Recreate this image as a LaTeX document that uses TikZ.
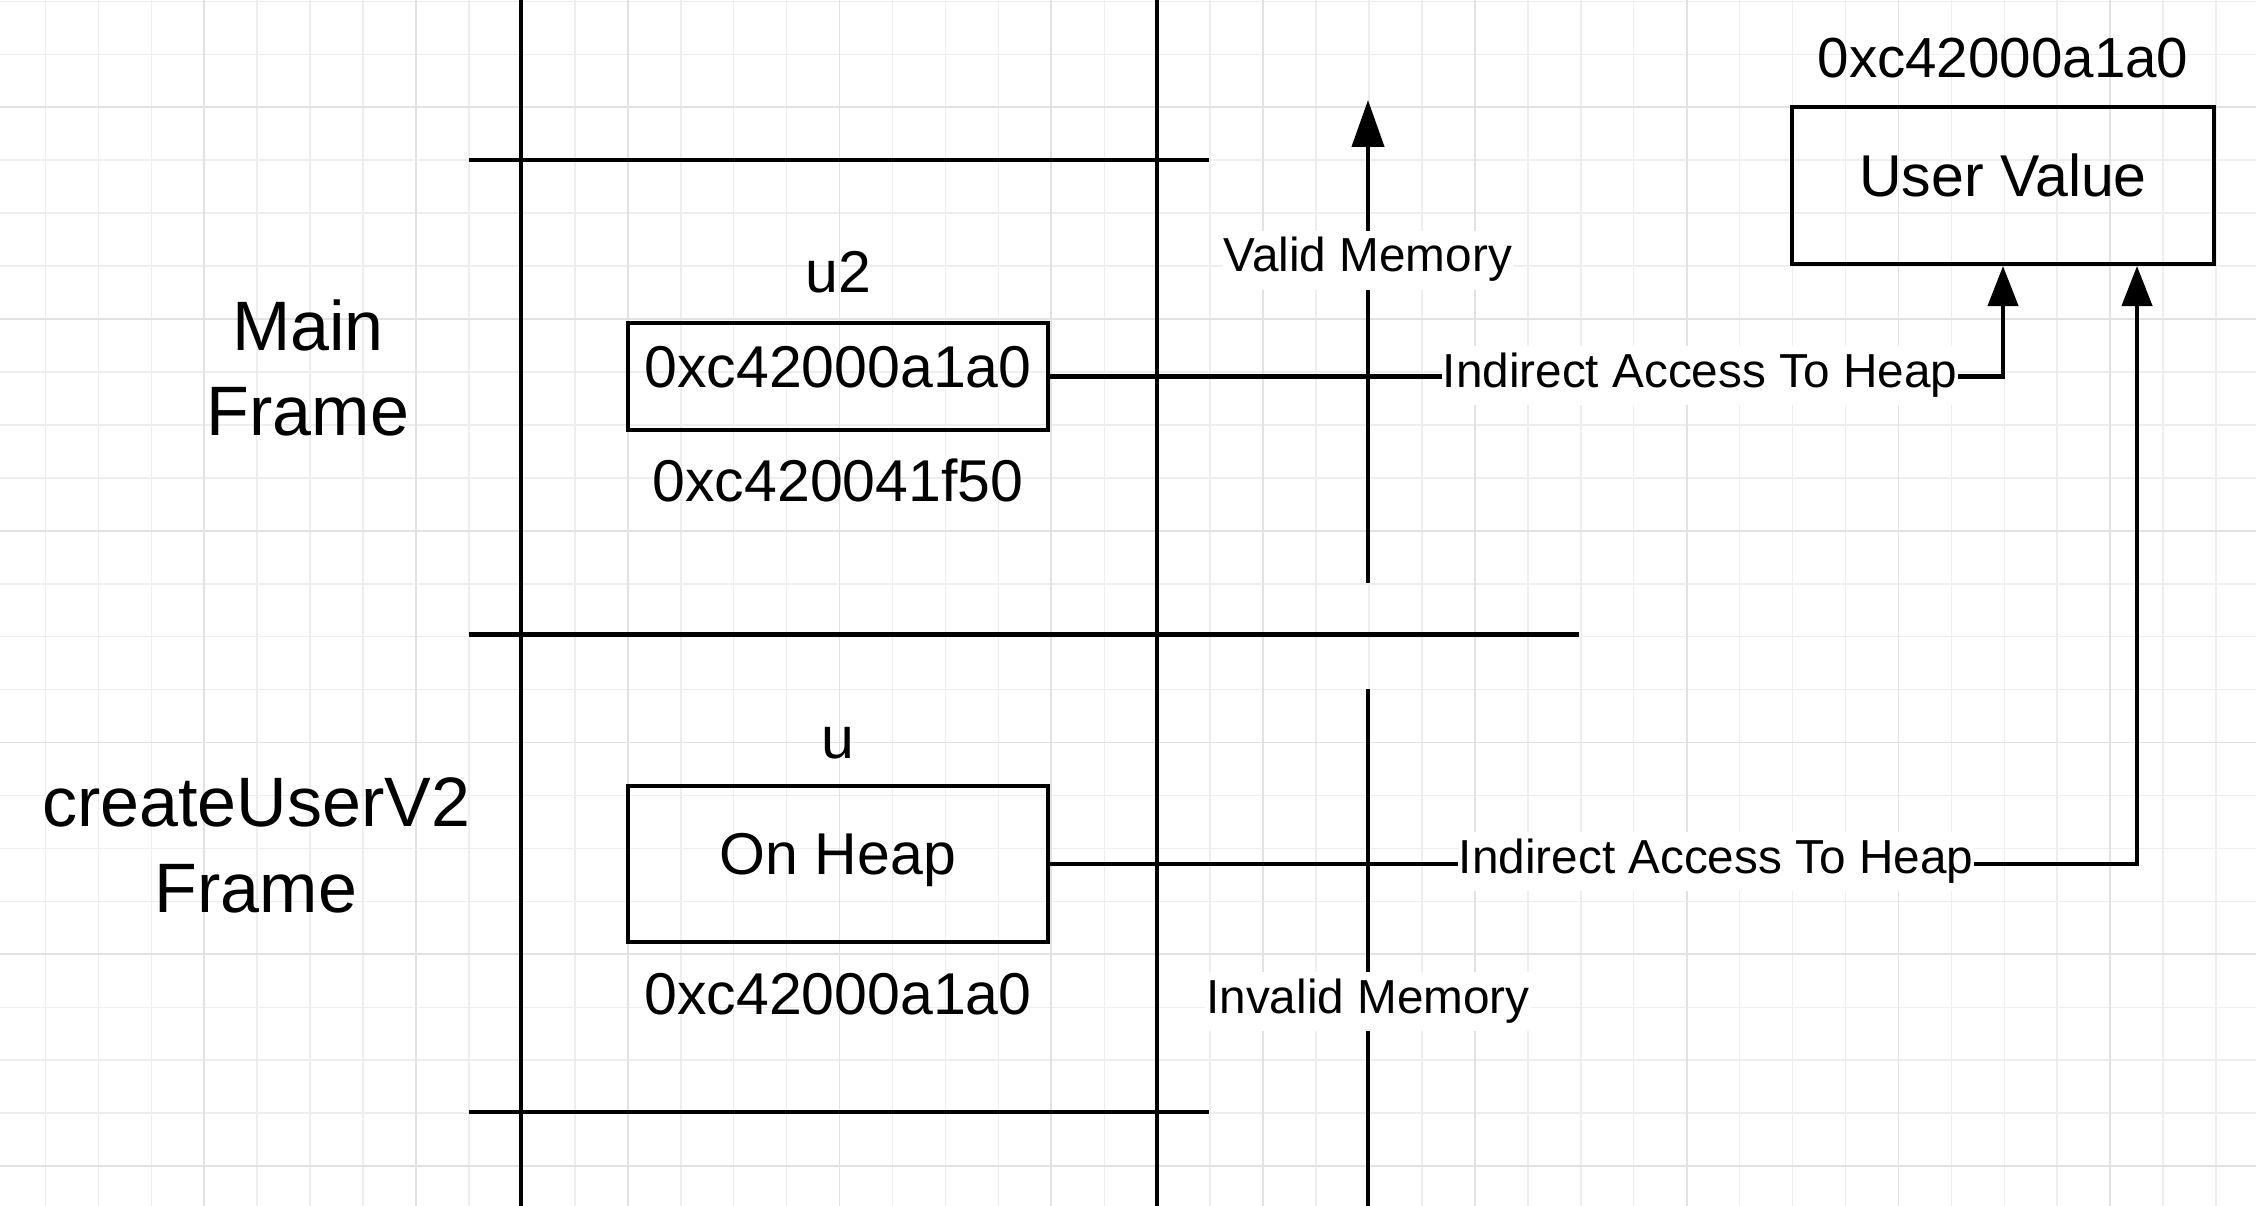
\documentclass[tikz,border=0pt]{standalone}
\usepackage{fontspec}
\setmainfont{Liberation Sans}
\usetikzlibrary{arrows.meta}
\definecolor{gridminor}{HTML}{EEEEEE}
\definecolor{gridmajor}{HTML}{E2E2E2}
\begin{document}
\begin{tikzpicture}[x=1pt,y=-1pt,
  frameline/.style={line width=4.3pt, line cap=butt},
  mybox/.style={draw, line width=4pt, inner sep=0pt, font=\fontsize{59}{71}\selectfont, text height=42.5pt, text depth=21.2pt},
  txt/.style={inner sep=0pt, anchor=base},
  big/.style={font=\fontsize{59}{71}\selectfont},
  lbl/.style={fill=white, inner xsep=1pt, inner ysep=6pt, text height=35pt, text depth=12pt, anchor=base, font=\fontsize{47.7}{57}\selectfont},
  conn/.style={line width=4.2pt, -{Triangle[width=30pt,length=40pt]}},
]
\useasboundingbox (0,0) rectangle (2256,1206);
\fill[white] (0,0) rectangle (2256,1206);
% grid
\foreach \i in {-3,...,38} {
  \draw[gridminor, line width=1.5pt] ({204.3+52.94*\i},0) -- ({204.3+52.94*\i},1206);
}
\foreach \j in {-2,...,20} {
  \draw[gridminor, line width=1.5pt] (0,{107.3+52.94*\j}) -- (2256,{107.3+52.94*\j});
}
\foreach \i in {0,4,...,36} {
  \draw[gridmajor, line width=1.8pt] ({204.3+52.94*\i},0) -- ({204.3+52.94*\i},1206);
}
\foreach \j in {0,4,...,20} {
  \draw[gridmajor, line width=1.8pt] (0,{107.3+52.94*\j}) -- (2256,{107.3+52.94*\j});
}

% frame lines
\draw[frameline] (521,0) -- (521,1206);
\draw[frameline] (1157,0) -- (1157,1206);
\draw[frameline] (469,160) -- (1209,160);
\draw[frameline] (469,634.5) -- (1579,634.5);
\draw[frameline] (469,1112) -- (1209,1112);

% frame labels
\node[font=\fontsize{70}{85}\selectfont, align=center, inner sep=0pt] (mainlbl) at (308,368) {Main\\Frame};
\node[font=\fontsize{70}{86}\selectfont, align=center, inner sep=0pt] (culbl) at (256,845) {createUserV2\\Frame};

% boxes
\node[mybox, minimum width=420pt, minimum height=107pt] (u2box) at (838,376.5) {0xc42000a1a0};
\node[txt, big] (u2name) at (838,292) {u2};
\node[txt, big] (u2addr) at (838,501) {0xc420041f50};

\node[mybox, minimum width=420pt, minimum height=156pt] (heapbox) at (838,864) {On Heap};
\node[txt, big] (uname) at (838,758) {u};
\node[txt, big] (heapaddr) at (838,1014) {0xc42000a1a0};

\node[mybox, minimum width=422pt, minimum height=157pt] (uvbox) at (2003,185.5) {User Value};
\node[txt, font=\fontsize{56.5}{68}\selectfont] (uvaddr) at (2003,78) {0xc42000a1a0};

% memory arrow
\coordinate (vtop) at (1368,100);
\coordinate (vbot) at (1368,583);
\draw[line width=4.3pt, -{Triangle[width=32pt,length=47pt]}] (vbot) -- (vtop);
\node[lbl] (valid) at (1368,272) {Valid Memory};
\coordinate (ltop) at (1368,689);
\coordinate (lbot) at (1368,1206);
\draw[frameline] (ltop) -- (lbot);
\node[lbl] (invalid) at (1368,1013) {Invalid Memory};

% connectors
\draw[conn] (u2box.east) -| (uvbox.south);
\node[lbl] (acc1) at (1700,387) {Indirect Access To Heap};
\coordinate (uvin2) at (2137,266);
\draw[conn] (heapbox.east) -| (uvin2);
\node[lbl] (acc2) at (1716,873) {Indirect Access To Heap};
\end{tikzpicture}
\end{document}
